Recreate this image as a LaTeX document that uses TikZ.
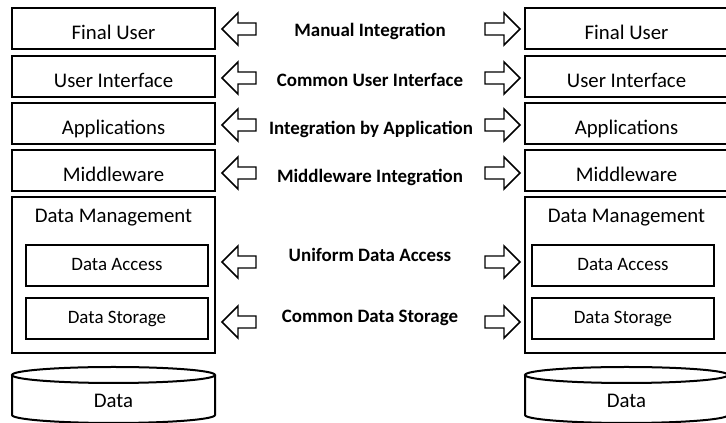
\documentclass[tikz,border=0pt]{standalone}
\usepackage{fontspec}
\setmainfont{Carlito}

\tikzset{every picture/.style={line width=0.75pt}}
\tikzset{
  layerbox/.style={draw, line width=1.5pt, minimum width=152.25pt, minimum height=30.75pt, inner sep=0pt, font=\fontsize{15.6}{18}\selectfont, text height=16.2pt, text depth=0pt},
  outerbox/.style={draw, line width=1.5pt, minimum width=152.25pt, minimum height=117pt, inner sep=0pt},
  innerbox/.style={draw, line width=1.5pt, minimum width=137pt, minimum height=30.75pt, inner sep=0pt, font=\fontsize{14.2}{17}\selectfont, text height=6.9pt, text depth=0pt},
  plaintext/.style={anchor=base, inner sep=0pt, font=\fontsize{15.6}{18}\selectfont},
  integlabel/.style={anchor=base, inner sep=0pt, font=\bfseries\fontsize{14.2}{17}\selectfont},
  blockarrow/.style={line width=1.1pt, line join=miter, fill=white},
  drum/.style={line width=1.5pt}
}

\begin{document}
\begin{tikzpicture}[x=0.75pt,y=0.75pt,yscale=-1,xscale=1]
\useasboundingbox (0,0) rectangle (726,423);

%Left stack
\node[layerbox] (fuL) at (113.5,28.5) {Final User};
\node[layerbox] (uiL) at (113.5,77) {User Interface};
\node[layerbox] (apL) at (113.5,123.5) {Applications};
\node[layerbox] (mwL) at (113.5,171) {Middleware};
\node[outerbox] (dmL) at (113.5,275) {};
\node[plaintext] (dmLtext) at (113.5,223) {Data Management};
\node[innerbox] (daL) at (117,266) {Data Access};
\node[innerbox] (dsL) at (117,319) {Data Storage};

%Right stack
\node[layerbox] (fuR) at (626.5,28.5) {Final User};
\node[layerbox] (uiR) at (626.5,77) {User Interface};
\node[layerbox] (apR) at (626.5,123.5) {Applications};
\node[layerbox] (mwR) at (626.5,171) {Middleware};
\node[outerbox] (dmR) at (626.5,275) {};
\node[plaintext] (dmRtext) at (626.5,223) {Data Management};
\node[innerbox] (daR) at (623,266) {Data Access};
\node[innerbox] (dsR) at (623,319) {Data Storage};

%Shape: Can (left)
\draw[drum] (12,375) -- (12,415) arc[start angle=180, end angle=0, x radius=101.5, y radius=8] -- (215,375) ;
\draw[drum] (113.5,375) ellipse[x radius=101.5, y radius=8] ;
\node[plaintext] (dataL) at (113.5,408) {Data};
%Shape: Can (right)
\draw[drum] (525,375) -- (525,415) arc[start angle=180, end angle=0, x radius=101.5, y radius=8] -- (728,375) ;
\draw[drum] (626.5,375) ellipse[x radius=101.5, y radius=8] ;
\node[plaintext] (dataR) at (626.5,408) {Data};

%Shape: Left Arrows
\draw[blockarrow] (222,29) -- (238,13) -- (238,23) -- (256,23) -- (256,35) -- (238,35) -- (238,45) -- cycle ;
\draw[blockarrow] (222,78) -- (238,62) -- (238,72) -- (256,72) -- (256,84) -- (238,84) -- (238,94) -- cycle ;
\draw[blockarrow] (222,125) -- (238,109) -- (238,119) -- (256,119) -- (256,131) -- (238,131) -- (238,141) -- cycle ;
\draw[blockarrow] (222,173) -- (238,157) -- (238,167) -- (256,167) -- (256,179) -- (238,179) -- (238,189) -- cycle ;
\draw[blockarrow] (222,262) -- (238,246) -- (238,256) -- (256,256) -- (256,268) -- (238,268) -- (238,278) -- cycle ;
\draw[blockarrow] (222,322) -- (238,306) -- (238,316) -- (256,316) -- (256,328) -- (238,328) -- (238,338) -- cycle ;
%Shape: Right Arrows
\draw[blockarrow] (520,29) -- (504,13) -- (504,23) -- (485,23) -- (485,35) -- (504,35) -- (504,45) -- cycle ;
\draw[blockarrow] (520,78) -- (504,62) -- (504,72) -- (485,72) -- (485,84) -- (504,84) -- (504,94) -- cycle ;
\draw[blockarrow] (520,125) -- (504,109) -- (504,119) -- (485,119) -- (485,131) -- (504,131) -- (504,141) -- cycle ;
\draw[blockarrow] (520,173) -- (504,157) -- (504,167) -- (485,167) -- (485,179) -- (504,179) -- (504,189) -- cycle ;
\draw[blockarrow] (520,262) -- (504,246) -- (504,256) -- (485,256) -- (485,268) -- (504,268) -- (504,278) -- cycle ;
\draw[blockarrow] (520,322) -- (504,306) -- (504,316) -- (485,316) -- (485,328) -- (504,328) -- (504,338) -- cycle ;

% Text Nodes
\node[integlabel] (manual) at (370,37) {Manual Integration};
\node[integlabel] (commonui) at (370,86.5) {Common User Interface};
\node[integlabel] (byapp) at (371,135) {Integration by Application};
\node[integlabel] (midint) at (370,182.5) {Middleware Integration};
\node[integlabel] (uniform) at (370,262) {Uniform Data Access};
\node[integlabel] (storage) at (370,322.5) {Common Data Storage};

\end{tikzpicture}
\end{document}
